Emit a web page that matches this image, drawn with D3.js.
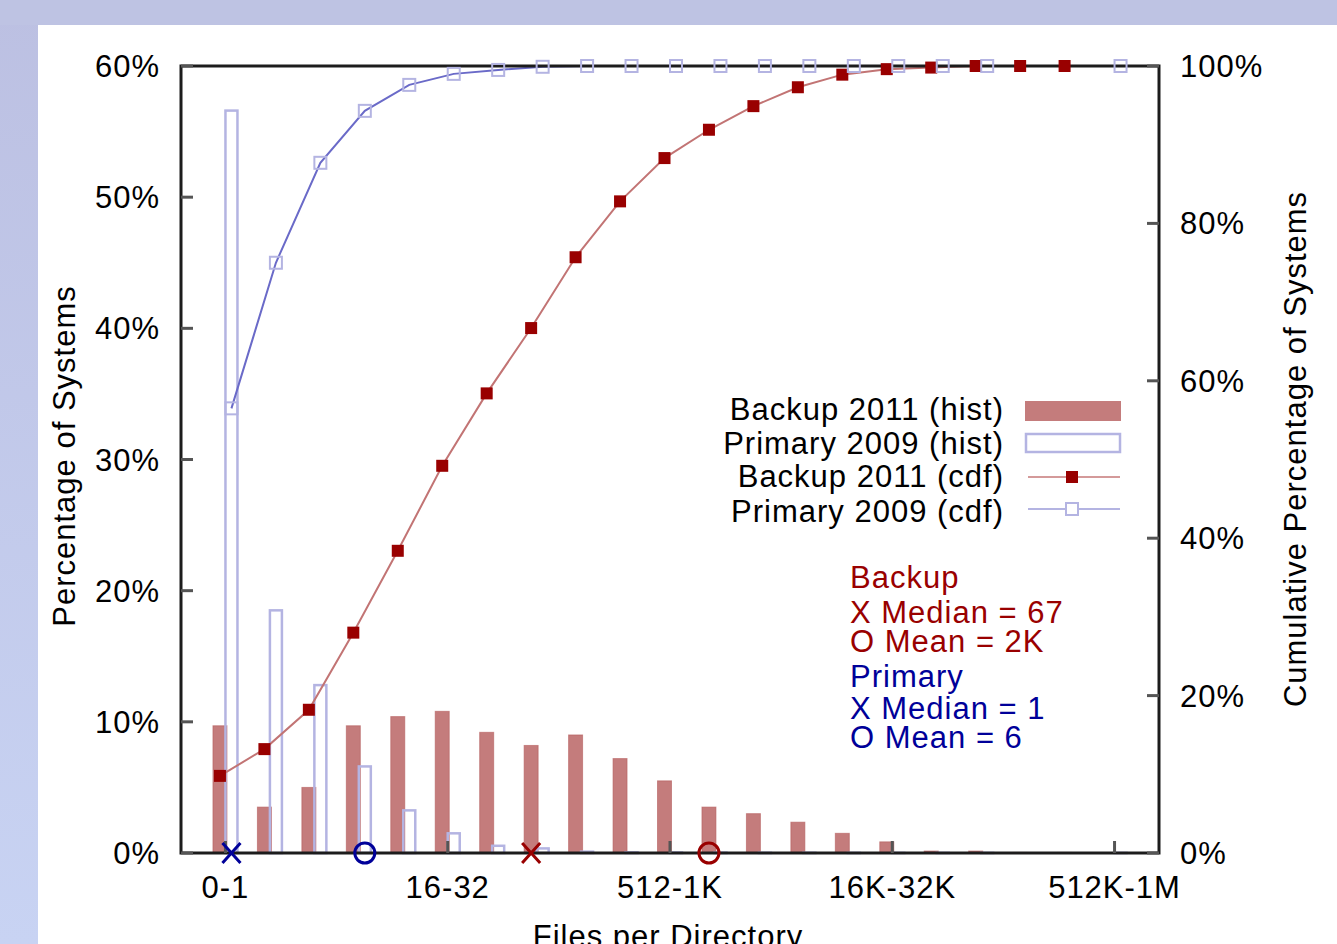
<!DOCTYPE html>
<html>
<head>
<meta charset="utf-8">
<script src="https://cdn.jsdelivr.net/npm/d3@7"></script>
<style>
  html, body { margin: 0; padding: 0; background: #fff; }
  svg { display: block; }
  text { font-family: "Liberation Sans", Arial, sans-serif; letter-spacing: 1px; }
</style>
</head>
<body>
<div id="chart"></div>
<script>
// bins of files per directory
const categories = ["0-1","1-2","2-4","4-8","8-16","16-32","32-64","64-128","128-256","256-512",
  "512-1K","1K-2K","2K-4K","4K-8K","8K-16K","16K-32K","32K-64K","64K-128K","128K-256K","256K-512K","512K-1M"];
const tickLabels = ["0-1","16-32","512-1K","16K-32K","512K-1M"];

// histogram, % of systems (left axis)
const backupHist  = [9.7,3.5,5.0,9.7,10.4,10.8,9.2,8.2,9.0,7.2,5.5,3.5,3.0,2.35,1.5,0.85,0.15,0.15,0.04,0.04,0];
const primaryHist = [56.6,18.5,12.8,6.6,3.25,1.5,0.55,0.35,0.1,0.05,0.04,0.03,0.02,0.02,0.01,0.01,0.01,0.01,0,0,0.01];

// cumulative, % of systems (right axis)
const backupCdf  = [9.8,13.2,18.2,28.0,38.4,49.2,58.4,66.7,75.7,82.8,88.3,91.9,94.9,97.3,98.9,99.6,99.8,100,100,100,null];
const primaryCdf = [56.5,75.0,87.7,94.3,97.6,99.0,99.5,99.9,100,100,100,100,100,100,100,100,100,100,null,null,100];

// median (X) and mean (O) bins
const backupStats  = {median: 7, mean: 11};
const primaryStats = {median: 0, mean: 3};

const legendLabels = ["Backup 2011 (hist)", "Primary 2009 (hist)", "Backup 2011 (cdf)", "Primary 2009 (cdf)"];
const backupNotes  = ["Backup", "X Median = 67", "O Mean = 2K"];
const primaryNotes = ["Primary", "X Median = 1", "O Mean = 6"];

const W = 1337, H = 944;
const plot = {left: 181, right: 1159, top: 66, bottom: 853};

const redBar = "#c47c7c", redDark = "#990000", redLine = "#c27474";
const blueBar = "#b4b4e2", blueDark = "#000099", blueLine = "#6a6ac8";

const svg = d3.select("#chart").append("svg")
    .attr("width", W)
    .attr("height", H);

// lavender frame
const defs = svg.append("defs");
const grad = defs.append("linearGradient").attr("id", "side").attr("x1", 0).attr("y1", 0).attr("x2", 0).attr("y2", 1);
grad.append("stop").attr("offset", "0%").attr("stop-color", "#bcc0e2");
grad.append("stop").attr("offset", "100%").attr("stop-color", "#c8d3f3");
svg.append("rect").attr("width", W).attr("height", H).attr("fill", "url(#side)");
svg.append("rect").attr("width", W).attr("height", 25).attr("fill", "#bec3e3");
svg.append("rect").attr("x", 38).attr("y", 25).attr("width", W - 38).attr("height", H - 25).attr("fill", "#fff");

const x = d3.scaleLinear().domain([-1, 21]).range([plot.left, plot.right]);
const yL = d3.scaleLinear().domain([0, 60]).range([plot.bottom, plot.top]);
const yR = d3.scaleLinear().domain([0, 100]).range([plot.bottom, plot.top]);

const redOff = -5.5, blueOff = 6, barW = 14;

// backup histogram bars
svg.append("g").selectAll("rect")
    .data(backupHist)
    .join("rect")
    .attr("x", (d, i) => x(i) + redOff - barW / 2)
    .attr("y", d => yL(d))
    .attr("width", barW)
    .attr("height", d => yL(0) - yL(d))
    .attr("fill", redBar)
    .attr("stroke", "#b45c5c")
    .attr("stroke-width", 1)
    .attr("stroke-opacity", 0.6);

// primary histogram bars (outlined)
svg.append("g").selectAll("rect")
    .data(primaryHist)
    .join("rect")
    .attr("x", (d, i) => x(i) + blueOff - barW / 2 + 1)
    .attr("y", d => yL(d))
    .attr("width", barW - 2)
    .attr("height", d => yL(0) - yL(d))
    .attr("fill", "none")
    .attr("stroke", blueBar)
    .attr("stroke-width", 2.5);

// cdf lines
const lineR = d3.line()
    .defined(d => d !== null)
    .x((d, i) => x(i) + redOff)
    .y(d => yR(d));
const lineB = d3.line()
    .defined(d => d !== null)
    .x((d, i) => x(i) + blueOff)
    .y(d => yR(d));

svg.append("path")
    .datum(backupCdf)
    .attr("fill", "none")
    .attr("stroke", redLine)
    .attr("stroke-width", 2)
    .attr("d", lineR);

svg.append("path")
    .datum(primaryCdf)
    .attr("fill", "none")
    .attr("stroke", blueLine)
    .attr("stroke-width", 2)
    .attr("d", lineB);

// axes box
svg.append("rect")
    .attr("x", plot.left)
    .attr("y", plot.top)
    .attr("width", plot.right - plot.left)
    .attr("height", plot.bottom - plot.top)
    .attr("fill", "none")
    .attr("stroke", "#1c1c1c")
    .attr("stroke-width", 3);

// inward ticks
const tickG = svg.append("g").attr("stroke", "#555").attr("stroke-width", 3);
yL.ticks(6).forEach(t => {
    tickG.append("line").attr("x1", plot.left).attr("x2", plot.left + 12).attr("y1", yL(t)).attr("y2", yL(t));
});
yR.ticks(5).forEach(t => {
    tickG.append("line").attr("x1", plot.right - 12).attr("x2", plot.right).attr("y1", yR(t)).attr("y2", yR(t));
});
tickLabels.forEach(l => {
    const i = categories.indexOf(l);
    tickG.append("line").attr("x1", x(i)).attr("x2", x(i)).attr("y1", plot.bottom).attr("y2", plot.bottom - 12);
});

// cdf markers
svg.append("g").selectAll("rect")
    .data(backupCdf.map((d, i) => ({d, i})).filter(p => p.d !== null))
    .join("rect")
    .attr("x", p => x(p.i) + redOff - 6)
    .attr("y", p => yR(p.d) - 6)
    .attr("width", 12)
    .attr("height", 12)
    .attr("fill", redDark);

svg.append("g").selectAll("rect")
    .data(primaryCdf.map((d, i) => ({d, i})).filter(p => p.d !== null))
    .join("rect")
    .attr("x", p => x(p.i) + blueOff - 6)
    .attr("y", p => yR(p.d) - 6)
    .attr("width", 12)
    .attr("height", 12)
    .attr("fill", "none")
    .attr("stroke", blueBar)
    .attr("stroke-width", 2);

// median / mean markers on the x axis
function xMark(cx, color) {
    svg.append("path")
        .attr("d", `M${cx - 9},${plot.bottom - 10}L${cx + 9},${plot.bottom + 10}M${cx + 9},${plot.bottom - 10}L${cx - 9},${plot.bottom + 10}`)
        .attr("stroke", color)
        .attr("stroke-width", 3)
        .attr("fill", "none");
}
function oMark(cx, color) {
    svg.append("circle")
        .attr("cx", cx)
        .attr("cy", plot.bottom)
        .attr("r", 10)
        .attr("stroke", color)
        .attr("stroke-width", 3)
        .attr("fill", "none");
}
xMark(x(primaryStats.median) + blueOff, blueDark);
oMark(x(primaryStats.mean) + blueOff, blueDark);
xMark(x(backupStats.median) + redOff, redDark);
oMark(x(backupStats.mean) + redOff, redDark);

// tick labels
const labelSize = "31px";
yL.ticks(6).forEach(t => {
    svg.append("text")
        .attr("x", 160)
        .attr("y", yL(t) + 11)
        .attr("text-anchor", "end")
        .style("font-size", labelSize)
        .text(t + "%");
});
yR.ticks(5).forEach(t => {
    svg.append("text")
        .attr("x", 1180)
        .attr("y", yR(t) + 11)
        .style("font-size", labelSize)
        .text(t + "%");
});
tickLabels.forEach(l => {
    svg.append("text")
        .attr("x", x(categories.indexOf(l)))
        .attr("y", 898)
        .attr("text-anchor", "middle")
        .style("font-size", labelSize)
        .text(l);
});

// axis titles
svg.append("text")
    .attr("x", 668)
    .attr("y", 947)
    .attr("text-anchor", "middle")
    .style("font-size", labelSize)
    .text("Files per Directory");

svg.append("text")
    .attr("transform", "translate(75,456) rotate(-90)")
    .attr("text-anchor", "middle")
    .style("font-size", labelSize)
    .text("Percentage of Systems");

svg.append("text")
    .attr("transform", "translate(1306,449) rotate(-90)")
    .attr("text-anchor", "middle")
    .style("font-size", labelSize)
    .text("Cumulative Percentage of Systems");

// legend
const legendY = [420, 454, 487, 522];
legendLabels.forEach((l, i) => {
    svg.append("text")
        .attr("x", 1004)
        .attr("y", legendY[i])
        .attr("text-anchor", "end")
        .style("font-size", labelSize)
        .text(l);
});
svg.append("rect").attr("x", 1025).attr("y", 401).attr("width", 96).attr("height", 20).attr("fill", redBar);
svg.append("rect").attr("x", 1026).attr("y", 434).attr("width", 94).attr("height", 18)
    .attr("fill", "none").attr("stroke", blueBar).attr("stroke-width", 2.5);
svg.append("line").attr("x1", 1028).attr("x2", 1120).attr("y1", 477).attr("y2", 477).attr("stroke", "#d49a9a").attr("stroke-width", 2);
svg.append("rect").attr("x", 1066).attr("y", 471).attr("width", 12).attr("height", 12).attr("fill", redDark);
svg.append("line").attr("x1", 1028).attr("x2", 1120).attr("y1", 509).attr("y2", 509).attr("stroke", blueBar).attr("stroke-width", 2);
svg.append("rect").attr("x", 1066).attr("y", 503).attr("width", 12).attr("height", 12)
    .attr("fill", "#fff").attr("stroke", blueBar).attr("stroke-width", 2);

// summary notes
const noteY = [588, 623, 652, 687, 719, 748];
backupNotes.concat(primaryNotes).forEach((t, i) => {
    svg.append("text")
        .attr("x", 850)
        .attr("y", noteY[i])
        .attr("fill", i < 3 ? redDark : blueDark)
        .style("font-size", labelSize)
        .text(t);
});
</script>
</body>
</html>
